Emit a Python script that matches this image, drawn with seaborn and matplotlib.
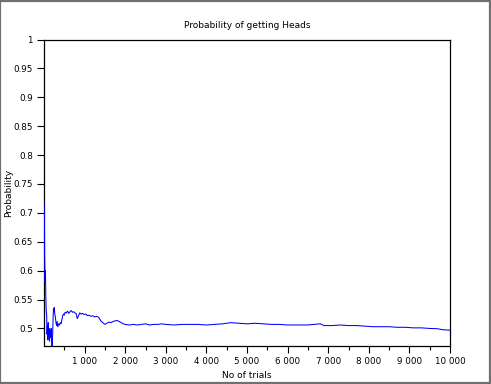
import matplotlib
matplotlib.use("Agg")
import matplotlib.pyplot as plt
import seaborn as sns
import pandas as pd
from matplotlib.patches import Rectangle
from matplotlib.ticker import FixedLocator, FuncFormatter

# Data (number of trials, running probability of heads)
trials = [1, 5, 10, 15, 25, 35, 45, 55, 65, 75, 85, 95, 105, 115, 125, 135, 150, 160,
          175, 185, 195, 205, 215, 225, 235, 245, 255, 265, 280, 295, 310, 325, 340,
          360, 380, 400, 420, 440, 460, 480, 500, 520, 550, 580, 610, 640, 670, 700,
          730, 760, 790, 820, 850, 880, 910, 950, 990, 1030, 1070, 1110, 1150, 1200,
          1250, 1300, 1350, 1400, 1450, 1500, 1550, 1600, 1650, 1700, 1750, 1800,
          1850, 1900, 1950, 2000, 2100, 2200, 2300, 2400, 2500, 2600, 2700, 2800,
          2900, 3000, 3200, 3400, 3600, 3800, 4000, 4200, 4400, 4600, 4800, 5000,
          5200, 5400, 5600, 5800, 6000, 6200, 6500, 6800, 6900, 7100, 7300, 7500,
          7700, 7900, 8100, 8300, 8500, 8700, 8900, 9100, 9300, 9500, 9700, 9800,
          9900, 10000]
prob = [0.72, 0.64, 0.70, 0.63, 0.58, 0.60, 0.555, 0.53, 0.525, 0.49, 0.505, 0.48,
        0.51, 0.49, 0.50, 0.478, 0.495, 0.485, 0.50, 0.48, 0.47, 0.472, 0.495, 0.52,
        0.535, 0.53, 0.536, 0.525, 0.52, 0.51, 0.505, 0.512, 0.503, 0.508, 0.506,
        0.51, 0.508, 0.515, 0.522, 0.525, 0.523, 0.528, 0.527, 0.530, 0.526, 0.529,
        0.531, 0.528, 0.529, 0.527, 0.526, 0.517, 0.522, 0.527, 0.525, 0.526, 0.524,
        0.525, 0.522, 0.523, 0.521, 0.522, 0.520, 0.521, 0.519, 0.513, 0.510, 0.507,
        0.509, 0.511, 0.510, 0.512, 0.513, 0.514, 0.512, 0.510, 0.508, 0.507, 0.506,
        0.507, 0.506, 0.507, 0.508, 0.506, 0.507, 0.507, 0.508, 0.507, 0.506, 0.507,
        0.507, 0.507, 0.506, 0.507, 0.508, 0.510, 0.509, 0.508, 0.509, 0.508, 0.507,
        0.507, 0.506, 0.506, 0.506, 0.508, 0.505, 0.505, 0.506, 0.505, 0.505, 0.504,
        0.503, 0.503, 0.503, 0.502, 0.502, 0.501, 0.501, 0.500, 0.4995, 0.498,
        0.4975, 0.497]

title = "Probability of getting Heads"
xlabel = "No of trials"
ylabel = "Probability"
x_major = [1000, 2000, 3000, 4000, 5000, 6000, 7000, 8000, 9000, 10000]
x_minor = [500, 1500, 2500, 3500, 4500, 5500, 6500, 7500, 8500, 9500]
y_major = [0.5, 0.55, 0.6, 0.65, 0.7, 0.75, 0.8, 0.85, 0.9, 0.95, 1.0]

df = pd.DataFrame({"trials": trials, "prob": prob})

sns.set_style("white")
plt.rcParams["font.family"] = ["DejaVu Sans"]
plt.rcParams["text.color"] = "black"
plt.rcParams["axes.labelcolor"] = "black"
plt.rcParams["xtick.color"] = "black"
plt.rcParams["ytick.color"] = "black"

fig = plt.figure(figsize=(4.91, 3.84), dpi=100)
ax = fig.add_axes([44 / 491, 1 - 345.5 / 384, (450 - 44) / 491, (345.5 - 39.5) / 384])

sns.lineplot(data=df, x="trials", y="prob", ax=ax, color="#0000ff", linewidth=0.75,
             estimator=None, sort=False, zorder=5)

ax.set_xlim(0, 10000)
ax.set_ylim(0.4705, 1.0)

ax.xaxis.set_major_locator(FixedLocator(x_major))
ax.xaxis.set_minor_locator(FixedLocator(x_minor))
ax.yaxis.set_major_locator(FixedLocator(y_major))
ax.xaxis.set_major_formatter(FuncFormatter(lambda v, p: f"{int(v):,}".replace(",", " ")))
ax.yaxis.set_major_formatter(FuncFormatter(lambda v, p: f"{v:g}"))

ax.tick_params(axis="both", which="major", direction="out", length=5, width=0.8,
               color="black", labelcolor="black", labelsize=6.3, pad=3,
               bottom=True, left=True)
ax.tick_params(axis="x", which="minor", direction="out", length=3, width=0.8,
               color="black", bottom=True)

for s in ax.spines.values():
    s.set_visible(True)
    s.set_color("black")
    s.set_linewidth(0.9)
    s.set_zorder(4)

ax.set_xlabel(xlabel, fontsize=6.5, color="black")
ax.set_ylabel(ylabel, fontsize=6.5, color="black")
ax.xaxis.set_label_coords(0.5, -(375 - 345.5) / 306)
ax.yaxis.set_label_coords(-(44 - 9) / 406, 0.5)
ax.xaxis.label.set_va("center")
ax.yaxis.label.set_va("center")
ax.set_title(title, fontsize=6.5, pad=8, color="black")

fig.patches.append(Rectangle((0.001, 0.002), 0.997, 0.996, transform=fig.transFigure,
                             fill=False, edgecolor="#707070", linewidth=1.6))

fig.savefig("out.png", dpi=100)
